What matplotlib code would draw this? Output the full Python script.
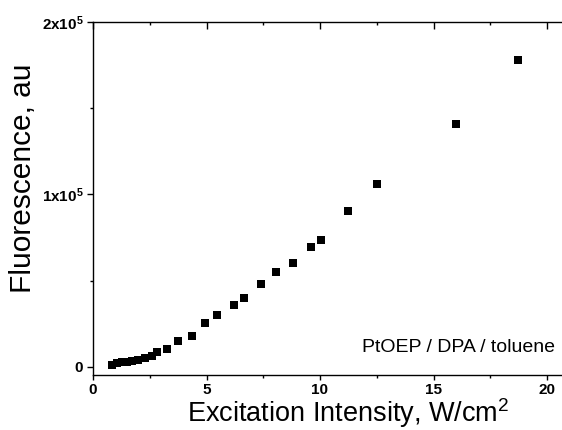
import matplotlib
matplotlib.use("Agg")
import matplotlib.pyplot as plt
import matplotlib.lines as mlines
from matplotlib.ticker import MultipleLocator, FixedLocator

plt.rcParams['font.family'] = ['Liberation Sans', 'DejaVu Sans']
plt.rcParams['mathtext.fontset'] = 'custom'
plt.rcParams['mathtext.rm'] = 'Liberation Sans'
plt.rcParams['mathtext.bf'] = 'Liberation Sans:bold'

# Data
intensity = [0.82, 1.04, 1.26, 1.48, 1.70, 2.00, 2.29, 2.58, 2.81, 3.27, 3.73,
             4.35, 4.93, 5.48, 6.21, 6.65, 7.39, 8.07, 8.80, 9.60, 10.04,
             11.25, 12.50, 16.0, 18.74]
fluorescence = [1200, 2100, 2700, 3100, 3500, 4100, 5200, 6600, 8400, 10300, 15100,
                18000, 25500, 30100, 35900, 40200, 48100, 55100, 60500, 69400, 73600,
                90600, 106100, 140900, 178000]

ytick_vals = [0, 100000, 200000]
ytick_labels = [r'$\mathbf{0}$', r'$\mathbf{1x10^5}$', r'$\mathbf{2x10^5}$']
xtick_vals = [0, 5, 10, 15, 20]
xtick_labels = ['0', '5', '10', '15', '20']

W, H = 562, 430
fig = plt.figure(figsize=(W / 100, H / 100), dpi=100)
x0_px, xaxis_px, top_px = 93, 375, 22
xmax = 21.0
px_per_unit = 22.7
ax_w_px = xmax * px_per_unit
ax_h_px = xaxis_px - top_px
ax = fig.add_axes([x0_px / W, (H - xaxis_px) / H, ax_w_px / W, ax_h_px / H])

ax.plot(intensity, fluorescence, linestyle='none', marker='s',
        markersize=6, color='black', markeredgewidth=0)

ax.set_xlim(0, xmax)
ax.set_ylim(-4700, 200000)

ax.spines['right'].set_visible(False)
for s in ['left', 'bottom', 'top']:
    ax.spines[s].set_linewidth(1.0)

ax.xaxis.set_major_locator(FixedLocator(xtick_vals))
ax.set_xticklabels(xtick_labels, fontsize=11, fontweight='bold')
ax.xaxis.set_minor_locator(MultipleLocator(2.5))
ax.yaxis.set_major_locator(FixedLocator(ytick_vals))
ax.set_yticklabels(ytick_labels, fontsize=11)
ax.yaxis.set_minor_locator(MultipleLocator(50000))

ax.tick_params(axis='x', which='major', direction='out', length=3.6, width=1, pad=2.5,
               top=True, bottom=True)
ax.tick_params(axis='x', which='minor', direction='out', length=2, width=1,
               top=True, bottom=True)
ax.tick_params(axis='y', which='major', direction='out', length=4.5, width=1, pad=2)
ax.tick_params(axis='y', which='minor', direction='out', length=2, width=1)

# top ticks point inward (downwards)
for t in ax.xaxis.get_major_ticks():
    t.tick2line.set_marker(mlines.TICKDOWN)
    t.tick2line.set_markersize(5)
for t in ax.xaxis.get_minor_ticks():
    t.tick2line.set_marker(mlines.TICKDOWN)
    t.tick2line.set_markersize(2.5)

ax.set_xlabel('Excitation Intensity, W/cm$^2$', fontsize=19.5)
ax.xaxis.label.set_va('bottom')
ax.xaxis.set_label_coords((348 - x0_px) / ax_w_px, (xaxis_px - 430) / ax_h_px)
ax.set_ylabel('Fluorescence, au', fontsize=21.5)
ax.yaxis.label.set_va('top')
ax.yaxis.set_label_coords((9 - x0_px) / ax_w_px, (xaxis_px - 178) / ax_h_px)

ax.text(555 / W, (H - 352) / H, 'PtOEP / DPA / toluene', transform=fig.transFigure,
        ha='right', va='baseline', fontsize=14)

fig.savefig('out.png', dpi=100)
